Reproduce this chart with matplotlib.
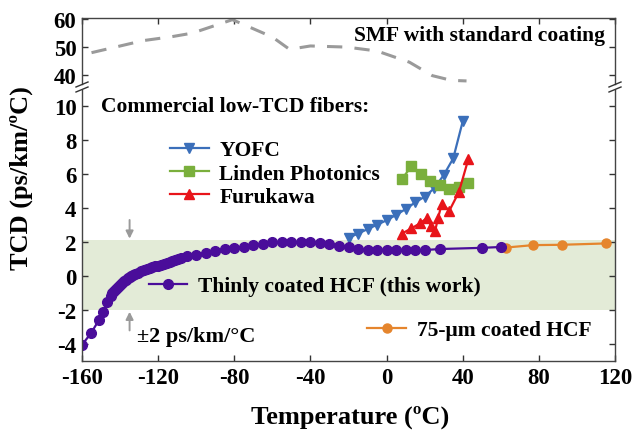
import matplotlib.pyplot as plt
from matplotlib.lines import Line2D

plt.rcParams['font.family'] = ['Liberation Serif', 'DejaVu Serif']
plt.rcParams['font.weight'] = 'bold'
plt.rcParams['axes.unicode_minus'] = False

# SMF with standard coating (dashed, upper panel)
smf_t = [-155, -128, -113, -102, -81, -60, -51, -40, -21, -5, 12, 24, 34, 42]
smf_y = [48.0, 52.3, 53.7, 55.0, 59.8, 53.6, 49.2, 50.4, 50.0, 48.6, 44.6, 39.8, 38.1, 37.9]

# thinly coated HCF (this work)
hcf_t = [-160, -155.3, -151, -148.8, -146.7, -145, -144, -143, -142, -141, -140, -139,
         -138, -137, -136, -135, -134, -133, -132, -130.5, -129, -127.5, -126, -124.5,
         -123, -121.5, -120, -118.5, -117, -115.5, -114, -112.5, -111, -109.5, -108,
         -105, -100, -95, -90, -85, -80, -75, -70, -65, -60, -55, -50, -45, -40, -35,
         -30, -25, -20, -15, -10, -5, 0, 5, 10, 15, 20, 28, 50, 60]
hcf_y = [-4.05, -3.37, -2.57, -2.14, -1.5, -1.18, -1.02, -0.88, -0.74, -0.62, -0.50, -0.39,
         -0.30, -0.21, -0.13, -0.06, 0.00, 0.06, 0.12, 0.20, 0.27, 0.34, 0.40, 0.46,
         0.52, 0.57, 0.62, 0.67, 0.72, 0.77, 0.83, 0.88, 0.94, 1.00, 1.05,
         1.16, 1.25, 1.35, 1.45, 1.57, 1.65, 1.72, 1.80, 1.90, 1.98, 2.02, 2.02, 2.00, 1.98, 1.94,
         1.88, 1.78, 1.69, 1.59, 1.55, 1.55, 1.55, 1.55, 1.55, 1.53, 1.53, 1.59, 1.66, 1.71]

# 75-um coated HCF
thick_t = [63, 77, 92, 115.5]
thick_y = [1.68, 1.82, 1.84, 1.92]

# commercial low-TCD fibers
yofc_t = [-20, -15, -10, -5, 0, 5, 10, 15, 20, 25, 30, 35, 40]
yofc_y = [2.25, 2.5, 2.76, 3.02, 3.28, 3.6, 3.94, 4.33, 4.67, 5.16, 5.94, 6.92, 9.1]

linden_t = [8, 13, 18, 23, 28, 33, 38, 43]
linden_y = [5.7, 6.45, 6.0, 5.6, 5.35, 5.1, 5.25, 5.47]

furu_t = [8, 13, 17.5, 21, 23.5, 25.5, 27, 29, 33, 38, 43]
furu_y = [2.5, 2.8, 3.1, 3.4, 2.95, 2.65, 3.4, 4.25, 3.85, 4.95, 6.9]

purple = '#4a0d9a'
orange = '#e5852d'
blue = '#3b6fba'
green = '#7aaf3c'
red = '#e8141a'
gray = '#9a9a9a'

fig = plt.figure(figsize=(6.35, 4.35), dpi=100)
L, W = 82 / 635, 533 / 635
ax_top = fig.add_axes([L, 1 - 85 / 435, W, 66 / 435])
ax = fig.add_axes([L, 1 - 362 / 435, W, 271 / 435])

for a in (ax_top, ax):
    a.set_xlim(-160, 120)
    a.tick_params(direction='in', labelsize=16.5, length=4, width=1, colors='#333333',
                  labelcolor='black', top=True, right=True, pad=4)
    for s in a.spines.values():
        s.set_color('#444444')
        s.set_linewidth(1.0)

ax_top.set_ylim(36.8, 60.4)
ax_top.set_yticks([40, 50, 60])
ax_top.set_xticks(range(-160, 121, 40))
ax_top.tick_params(bottom=False, labelbottom=False)
ax_top.spines['bottom'].set_visible(False)
ax_top.plot(smf_t, smf_y, color=gray, lw=2.2, ls=(0, (5, 4)))
ax_top.text(114.5, 54.4, 'SMF with standard coating', ha='right', va='center',
            fontsize=15.5, fontweight='bold')

ax.set_ylim(-5, 10.95)
ax.set_yticks(range(-4, 11, 2))
ax.set_xticks(range(-160, 121, 40))
ax.tick_params(top=False)
ax.spines['top'].set_visible(False)

ax.axhspan(-2.0, 2.1, color='#e3ebd7', zorder=0, lw=0)

ax.plot(yofc_t, yofc_y, color=blue, marker='v', ms=6.5, lw=1.6)
ax.plot(linden_t, linden_y, color=green, marker='s', ms=6.5, lw=1.6)
ax.plot(furu_t, furu_y, color=red, marker='^', ms=7, lw=1.6)
ax.plot(thick_t, thick_y, color=orange, marker='o', ms=6.5, lw=1.6)
ax.plot(hcf_t, hcf_y, color=purple, marker='o', ms=7, lw=1.6)

# +-2 arrows
arrow = dict(arrowstyle='-|>', color=gray, lw=1.4, mutation_scale=11, shrinkA=0, shrinkB=0)
ax.annotate('', xy=(-135, 2.2), xytext=(-135, 3.3), arrowprops=arrow)
ax.annotate('', xy=(-135, -2.1), xytext=(-135, -3.2), arrowprops=arrow)
ax.text(-131, -3.5, '±2 ps/km/°C', ha='left', va='center', fontsize=16, fontweight='bold')

ax.text(-150, 10.0, 'Commercial low-TCD fibers:', ha='left', va='center',
        fontsize=15.5, fontweight='bold')


def handle(c, m, ms=6.5):
    return Line2D([], [], color=c, marker=m, ms=ms, lw=1.6)


leg_style = dict(frameon=False, handlelength=1.8, numpoints=1, handletextpad=0.5,
                 labelspacing=0.15, borderpad=0, borderaxespad=0,
                 prop=dict(size=15.5, weight='bold'))
leg1 = ax.legend([handle(blue, 'v'), handle(green, 's'), handle(red, '^', 7)],
                 ['YOFC', 'Linden Photonics', 'Furukawa'],
                 loc='upper left', bbox_to_anchor=(0.165, 0.815), **leg_style)
ax.add_artist(leg1)
leg2 = ax.legend([handle(purple, 'o', 7)], ['Thinly coated HCF (this work)'],
                 loc='center left', bbox_to_anchor=(0.125, 0.276), **leg_style)
ax.add_artist(leg2)
ax.legend([handle(orange, 'o')], ['75-μm coated HCF'],
          loc='center left', bbox_to_anchor=(0.535, 0.113), **leg_style)

# break marks
kw = dict(color='#333333', lw=1.0, clip_on=False, transform=fig.transFigure)
for xp in (82, 615):
    for yp in (85.5, 90.5):
        x0, x1 = (xp - 6) / 635, (xp + 6) / 635
        fig.add_artist(Line2D([x0, x1], [1 - (yp + 2.5) / 435, 1 - (yp - 2.5) / 435], **kw))

fig.text(350 / 635, 1 - 417 / 435, 'Temperature (ºC)', ha='center', va='center',
         fontsize=19, fontweight='bold')
fig.text(21 / 635, 1 - 178 / 435, 'TCD (ps/km/ºC)', ha='center', va='center',
         rotation=90, fontsize=19, fontweight='bold')

fig.savefig('out.png', dpi=100)
